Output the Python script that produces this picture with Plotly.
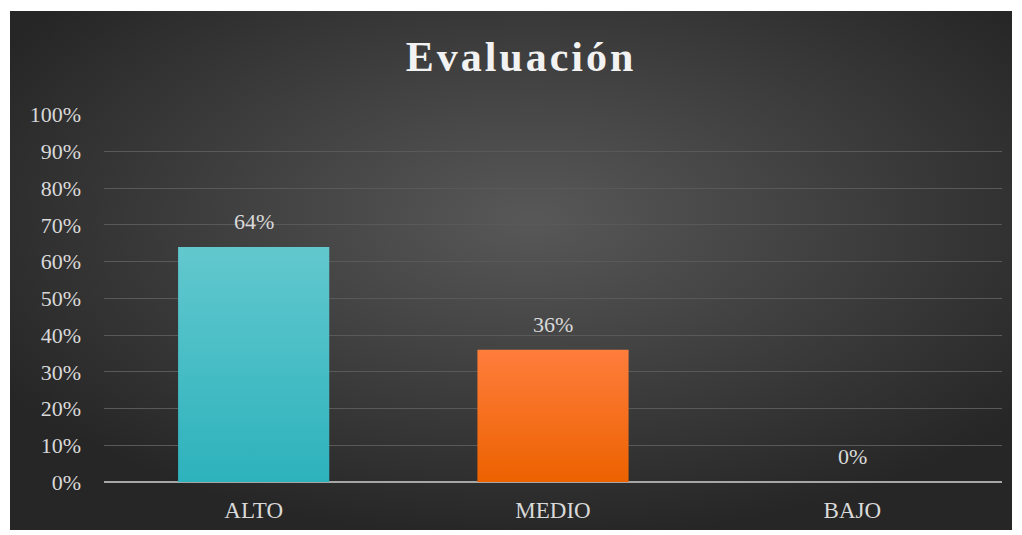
import base64
import plotly.graph_objects as go

# Chart data
categories = ["ALTO", "MEDIO", "BAJO"]
values = [0.64, 0.36, 0.0]
bar_top_colors = ["#62c8ce", "#ff7d3c", "#b5b5b5"]
bar_bottom_colors = ["#2db2bc", "#ec6200", "#959595"]
title_text = "Evaluación"

W, H = 1022, 535
L, R, T, B = 104, 20, 114, 53
pw, ph = W - L - R, H - T - B
BAR_W = 0.505

# Dark radial-gradient background with a thin white frame
svg = f"""<svg xmlns='http://www.w3.org/2000/svg' width='{W}' height='{H}' viewBox='0 0 {W} {H}'>
<defs><radialGradient id='g' cx='52%' cy='40%' r='62%' fx='52%' fy='40%'>
<stop offset='0%' stop-color='#585858'/><stop offset='100%' stop-color='#262626'/>
</radialGradient></defs>
<rect x='0' y='0' width='{W}' height='{H}' fill='#ffffff'/>
<rect x='10' y='11' width='1002' height='519' fill='url(#g)'/>
</svg>"""
bg_uri = "data:image/svg+xml;base64," + base64.b64encode(svg.encode()).decode()

font_family = "Liberation Serif, Times New Roman, serif"
label_color = "#d9d9d9"

fig = go.Figure()

# Each bar is a filled rectangle with a vertical colour gradient
for i, (v, top, bot) in enumerate(zip(values, bar_top_colors, bar_bottom_colors)):
    x0, x1 = i - BAR_W / 2, i + BAR_W / 2
    fig.add_trace(go.Scatter(
        x=[x0, x1, x1, x0, x0],
        y=[0, 0, v, v, 0],
        mode="lines",
        line=dict(width=0, color=top),
        fill="toself",
        fillgradient=dict(type="vertical", colorscale=[[0, bot], [1, top]]),
        hoverinfo="skip",
    ))
    fig.add_annotation(
        x=i, y=v, xref="x", yref="y",
        text=f"{round(v * 100)}%",
        showarrow=False, yanchor="bottom", yshift=11,
        font=dict(family=font_family, size=22, color=label_color),
    )

fig.add_layout_image(dict(
    source=bg_uri, xref="paper", yref="paper",
    x=-L / pw, y=1 + T / ph, sizex=W / pw, sizey=H / ph,
    xanchor="left", yanchor="top", sizing="stretch", layer="below",
))

fig.update_layout(
    width=W, height=H,
    margin=dict(l=L, r=R, t=T, b=B, pad=0),
    paper_bgcolor="#ffffff",
    plot_bgcolor="rgba(0,0,0,0)",
    showlegend=False,
    title=dict(
        text=f"<b>{title_text}</b>",
        x=(521 / W), xref="container", xanchor="center",
        y=1 - 56 / H, yref="container", yanchor="middle",
        font=dict(family=font_family, size=42, color="#f2f2f2"),
    ),
    xaxis=dict(
        range=[-0.5, len(categories) - 0.5],
        tickvals=list(range(len(categories))), ticktext=categories,
        showgrid=False, ticks="", showline=False, zeroline=False,
        tickfont=dict(family=font_family, size=23, color=label_color),
        ticklabelstandoff=12,
    ),
    yaxis=dict(
        range=[0, 1.002], tickvals=[k / 10 for k in range(11)], tickformat=".0%",
        showgrid=True, gridcolor="#595959", gridwidth=1,
        zeroline=True, zerolinecolor="#a6a6a6", zerolinewidth=2,
        showline=False, ticks="",
        tickfont=dict(family=font_family, size=22, color=label_color),
        ticklabelstandoff=22,
    ),
)

# Letter-spaced chart title
style_js = (
    "var s=document.createElement('style');"
    "s.textContent='.gtitle{letter-spacing:3px;}';"
    "document.head.appendChild(s);"
)
fig.write_html("out.html", post_script=style_js)
